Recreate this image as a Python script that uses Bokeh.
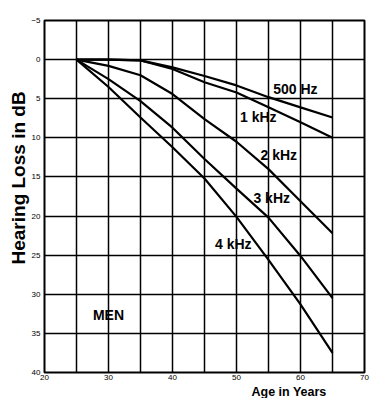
from bokeh.plotting import figure
from bokeh.models import Range1d, FixedTicker, Label, Title
from bokeh.embed import file_html
from bokeh.resources import INLINE

# ---- data ----
ages = [25, 30, 35, 40, 45, 50, 55, 60, 65]
loss_500hz = [0, 0, 0.1, 1.0, 2.1, 3.3, 4.8, 6.1, 7.4]
loss_1khz = [0, 0, 0.1, 1.2, 2.9, 4.2, 6.1, 8.0, 10.0]
loss_2khz = [0, 0.8, 2.0, 4.4, 7.6, 10.5, 14.0, 18.1, 22.2]
loss_3khz = [0, 2.5, 5.3, 8.7, 12.7, 16.5, 20.2, 25.1, 30.5]
loss_4khz = [0, 3.5, 7.4, 11.2, 15.2, 20.1, 25.6, 31.3, 37.5]
series_names = ["500 Hz", "1 kHz", "2 kHz", "3 kHz", "4 kHz"]
x_tick_values = [20, 30, 40, 50, 60, 70]
y_tick_values = [-5, 0, 5, 10, 15, 20, 25, 30, 35, 40]
x_grid_values = [25, 30, 35, 40, 45, 50, 55, 60, 65]
y_grid_values = [0, 5, 10, 15, 20, 25, 30, 35]
group_label = "MEN"
x_title = "Age in Years"
y_title = "Hearing Loss in dB"

# label anchor positions (layout)
label_at = [(59.2, 3.7), (53.4, 7.4), (56.6, 12.2), (55.5, 17.7), (49.5, 23.6)]

FONT = "Liberation Sans"

p = figure(width=384, height=398, output_backend="svg", toolbar_location=None,
           x_range=Range1d(20, 70), y_range=Range1d(40, -5),
           min_border_left=44, min_border_right=20, min_border_top=20, min_border_bottom=25)
p.background_fill_color = "white"
p.border_fill_color = "white"
p.outline_line_color = "black"
p.outline_line_width = 2

for ax in (p.xaxis[0], p.yaxis[0]):
    ax.axis_line_color = None
    ax.major_tick_line_color = None
    ax.minor_tick_line_color = None
    ax.major_tick_out = 0
    ax.major_tick_in = 0
    ax.minor_tick_out = 0
    ax.minor_tick_in = 0
    ax.major_label_text_font = FONT
    ax.major_label_text_font_size = "8px"
    ax.major_label_text_color = "black"

p.xaxis.ticker = FixedTicker(ticks=x_tick_values)
p.yaxis.ticker = FixedTicker(ticks=y_tick_values)
p.xaxis.major_label_standoff = 2
p.yaxis.major_label_standoff = 4

p.xgrid.ticker = FixedTicker(ticks=x_grid_values)
p.ygrid.ticker = FixedTicker(ticks=y_grid_values)
for g in (p.xgrid[0], p.ygrid[0]):
    g.grid_line_color = "black"
    g.grid_line_width = 1.5
    g.grid_line_alpha = 1.0

series = [loss_500hz, loss_1khz, loss_2khz, loss_3khz, loss_4khz]
for vals in series:
    p.line(ages, vals, line_color="black", line_width=2.2)

for name, (lx, ly) in zip(series_names, label_at):
    p.add_layout(Label(x=lx, y=ly, text=name, text_font=FONT, text_font_size="14px",
                       text_font_style="bold", text_align="center", text_baseline="middle",
                       text_color="black"))

p.add_layout(Label(x=30, y=32.6, text=group_label, text_font=FONT, text_font_size="14px",
                   text_font_style="bold", text_align="center", text_baseline="middle",
                   text_color="black"))

xt = Title(text=x_title, align="right", offset=38, text_font=FONT, text_font_size="12.5px",
           text_font_style="bold", standoff=0, text_color="black")
p.add_layout(xt, "below")

yt = Title(text=y_title, align="left", offset=108, text_font=FONT, text_font_size="19px",
           text_font_style="bold", standoff=0, text_color="black")
p.add_layout(yt, "left")

open("out.html", "w").write(file_html(p, INLINE))
